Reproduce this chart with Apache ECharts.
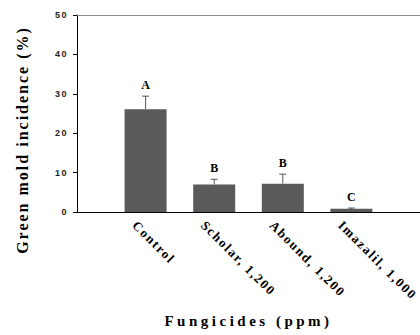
<!DOCTYPE html>
<html style="height: 100%">
<head>
  <meta charset="UTF-8">
  <title>Green mold incidence</title>
  <script src="https://cdnjs.cloudflare.com/ajax/libs/echarts/6.0.0/echarts.min.js"></script>
  <style>
    body {
      margin: 0;
      height: 100%;
      background: #fff;
    }
    #main {
      width: 420px;
      height: 335px;
    }
    /* spaced-out text like the original plot */
    #main text[style*="Times New Roman"] {
      letter-spacing: 1.6px;
    }
    #main text[style*="Times New Roman"][style*="15px"] {
      letter-spacing: 3.5px;
    }
    #main text[style*="Times New Roman"][style*="16px"] {
      letter-spacing: 2px;
    }
    #main text[style*="Arial"] {
      letter-spacing: 1.5px;
    }
  </style>
</head>
<body>
  <div id="main"></div>

  <script>
    const categories = ['Control', 'Scholar, 1,200', 'Abound, 1,200', 'Imazalil, 1,000'];
    const means = [26.1, 7.0, 7.2, 0.8];
    const errors = [3.3, 1.3, 2.4, 0.2];
    const letters = ['A', 'B', 'B', 'C'];
    const yTicks = [0, 10, 20, 30, 40, 50];

    const chart = echarts.init(document.getElementById('main'), null, { renderer: 'svg' });

    const option = {
      animation: false,
      grid: {
        left: 77, right: 0, top: 15, bottom: 123,
        containLabel: false,
        outerBoundsMode: 'none'
      },
      xAxis: [{
        type: 'value',
        position: 'bottom',
        min: -1,
        max: 4,
        interval: 1,
        splitLine: { show: false },
        axisTick: { show: false },
        axisLine: { show: true, onZero: false, lineStyle: { color: '#000', width: 1 } },
        axisLabel: {
          rotate: -45,
          margin: 0,
          verticalAlign: 'top',
          padding: [9, 0, 0, 0],
          color: '#000',
          fontSize: 13,
          fontWeight: 'bold',
          fontFamily: '"Times New Roman", "Liberation Serif", serif',
          formatter: v => categories[v] || ''
        },
        name: 'Fungicides (ppm)',
        nameLocation: 'middle',
        nameGap: 101,
        nameTextStyle: {
          color: '#000',
          fontSize: 15,
          fontWeight: 'bold',
          fontFamily: '"Times New Roman", "Liberation Serif", serif'
        }
      }, {
        type: 'value',
        position: 'top',
        min: -1,
        max: 4,
        interval: 1,
        splitLine: { show: false },
        axisTick: { show: false },
        axisLabel: { show: false },
        axisLine: { show: true, onZero: false, lineStyle: { color: '#8a8a8a', width: 1 } }
      }],
      yAxis: {
        type: 'value',
        min: yTicks[0],
        max: yTicks[yTicks.length - 1],
        interval: 10,
        splitLine: { show: false },
        axisLine: { show: true, onZero: false, lineStyle: { color: '#000', width: 1 } },
        axisTick: { show: true, inside: false, length: 4, lineStyle: { color: '#000' } },
        axisLabel: {
          color: '#222',
          fontSize: 9,
          fontWeight: 'bold',
          fontFamily: 'Arial, "Liberation Sans", sans-serif',
          margin: 9
        }
      },
      graphic: [{
        type: 'text',
        x: 22,
        y: 140,
        rotation: Math.PI / 2,
        style: {
          text: 'Green mold incidence (%)',
          fill: '#000',
          font: 'bold 16px "Times New Roman", "Liberation Serif", serif',
          textAlign: 'center',
          textVerticalAlign: 'middle'
        }
      }],
      series: [{
        type: 'bar',
        xAxisIndex: 0,
        barWidth: 42,
        itemStyle: { color: '#5a5a5a' },
        data: means.map((m, i) => [i, m])
      }, {
        type: 'custom',
        xAxisIndex: 0,
        data: means.map((m, i) => [i, m, errors[i]]),
        renderItem: (params, api) => {
          const x = api.value(0);
          const m = api.value(1);
          const e = api.value(2);
          const base = api.coord([x, m]);
          const top = api.coord([x, m + e]);
          const cap = 3.5;
          return {
            type: 'group',
            children: [{
              type: 'line',
              shape: { x1: base[0], y1: base[1], x2: top[0], y2: top[1] },
              style: { stroke: '#555', lineWidth: 1 }
            }, {
              type: 'line',
              shape: { x1: top[0] - cap, y1: top[1], x2: top[0] + cap, y2: top[1] },
              style: { stroke: '#555', lineWidth: 1 }
            }, {
              type: 'text',
              x: top[0],
              y: top[1] - 5,
              style: {
                text: letters[params.dataIndex],
                fill: '#000',
                font: 'bold 12px "Liberation Serif", serif',
                textAlign: 'center',
                textVerticalAlign: 'bottom'
              }
            }]
          };
        }
      }]
    };

    chart.setOption(option);
  </script>
</body>
</html>
